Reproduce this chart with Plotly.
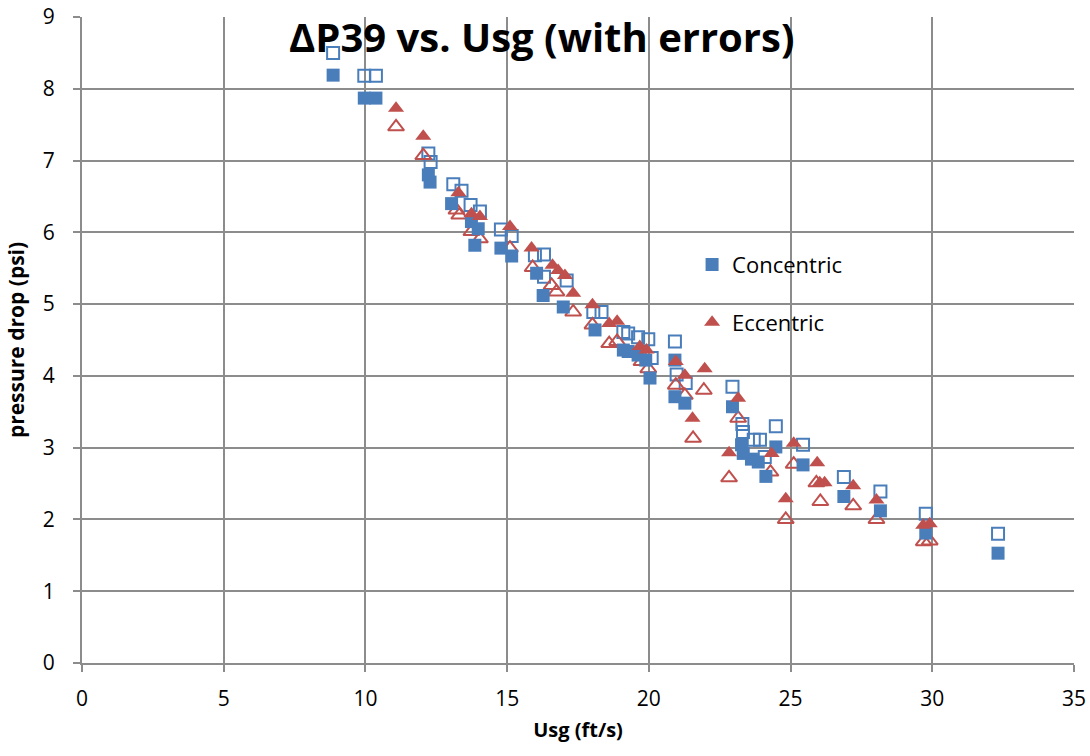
import plotly.graph_objects as go

# Concentric (filled = measured, open = with errors)
conc_x = [8.86, 9.96, 10.37, 12.22, 12.28, 13.04, 13.74, 13.98, 13.86, 14.78, 15.16, 16.04, 16.27, 16.98,
          18.10, 19.10, 19.27, 19.62, 19.89, 20.04, 20.92, 20.92, 21.27, 22.95, 23.27, 23.33, 23.62, 23.86,
          24.13, 24.48, 25.44, 26.88, 28.17, 29.77, 32.32]
conc_y = [8.19, 7.87, 7.87, 6.80, 6.70, 6.40, 6.15, 6.05, 5.82, 5.78, 5.67, 5.43, 5.12, 4.96,
          4.64, 4.36, 4.34, 4.29, 4.22, 3.97, 4.22, 3.71, 3.62, 3.57, 3.04, 2.92, 2.84, 2.80,
          2.60, 3.01, 2.76, 2.32, 2.12, 1.81, 1.53]

conc_err_x = [8.86, 9.96, 10.37, 12.22, 12.30, 13.10, 13.39, 13.71, 14.04, 14.78, 15.16, 15.98, 16.30, 16.30,
              17.10, 18.04, 18.33, 19.10, 19.27, 19.62, 19.98, 20.10, 20.92, 20.98, 21.30, 22.95, 23.30,
              23.32, 23.70, 23.92, 24.09, 24.48, 25.44, 26.88, 28.17, 29.77, 32.32]
conc_err_y = [8.50, 8.18, 8.18, 7.10, 6.98, 6.67, 6.58, 6.38, 6.29, 6.04, 5.95, 5.68, 5.69, 5.38,
              5.33, 4.89, 4.89, 4.61, 4.59, 4.54, 4.51, 4.25, 4.48, 4.02, 3.90, 3.85, 3.33,
              3.22, 3.11, 3.11, 2.87, 3.30, 3.04, 2.59, 2.39, 2.08, 1.80]

# Eccentric
ecc_x = [11.08, 12.04, 13.28, 13.74, 14.04, 15.10, 15.86, 16.60, 16.80, 17.04, 17.33, 18.01, 18.60, 18.88,
         19.68, 19.92, 20.95, 21.27, 21.97, 21.54, 23.15, 22.83, 24.33, 25.11, 25.94, 26.03, 26.20,
         24.83, 27.21, 28.03, 29.68, 29.91]
ecc_y = [7.73, 7.34, 6.55, 6.26, 6.22, 6.08, 5.78, 5.54, 5.47, 5.40, 5.15, 4.99, 4.73, 4.76,
         4.41, 4.36, 4.20, 4.01, 4.10, 3.41, 3.69, 2.93, 2.92, 3.06, 2.79, 2.51, 2.51,
         2.29, 2.47, 2.27, 1.92, 1.94]

ecc_err_x = [11.08, 12.04, 13.21, 13.31, 13.74, 14.04, 15.10, 15.90, 16.57, 16.74, 17.33, 18.01, 18.60, 18.88,
             19.74, 19.98, 20.95, 21.27, 21.94, 21.56, 23.15, 22.83, 24.29, 25.11, 25.91, 26.05,
             24.83, 27.21, 28.03, 29.70, 29.91]
ecc_err_y = [7.47, 7.07, 6.31, 6.24, 6.01, 5.91, 5.78, 5.51, 5.26, 5.17, 4.89, 4.71, 4.45, 4.48,
             4.20, 4.10, 3.87, 3.73, 3.80, 3.13, 3.41, 2.58, 2.66, 2.77, 2.51, 2.25,
             2.00, 2.19, 2.00, 1.69, 1.70]

BLUE = "#4A7EBB"
RED = "#C0504D"

fig = go.Figure()
fig.add_trace(go.Scatter(x=conc_err_x, y=conc_err_y, mode="markers", showlegend=False,
                         marker=dict(symbol="square-open", size=12, color=BLUE, line=dict(width=2, color=BLUE))))
fig.add_trace(go.Scatter(x=ecc_err_x, y=ecc_err_y, mode="markers", showlegend=False,
                         marker=dict(symbol="triangle-up-open", size=14, color=RED, line=dict(width=2, color=RED))))
fig.add_trace(go.Scatter(x=conc_x, y=conc_y, mode="markers", name="Concentric", legendgroup="a",
                         marker=dict(symbol="square", size=13, color=BLUE)))
fig.add_trace(go.Scatter(x=ecc_x, y=ecc_y, mode="markers", name="Eccentric", legendgroup="b",
                         marker=dict(symbol="triangle-up", size=14, color=RED)))

GRID = "#8C8C8C"
fig.update_layout(
    width=1090, height=756,
    margin=dict(l=82, r=16, t=17, b=93),
    paper_bgcolor="white", plot_bgcolor="white",
    font=dict(family="Open Sans, Liberation Sans, sans-serif", color="black"),
    title=dict(text="<b>ΔP39 vs. Usg (with errors)</b>", x=0.497, xanchor="center",
               y=0.95, yanchor="middle", font=dict(size=40, color="black"), automargin=False),
    showlegend=True,
    legend=dict(x=0.615, y=0.649, xanchor="left", yanchor="top", bgcolor="rgba(0,0,0,0)",
                font=dict(size=22), tracegroupgap=26, traceorder="grouped", itemwidth=30),
    xaxis=dict(range=[0, 35], dtick=5, tick0=0, showgrid=True, gridcolor=GRID, gridwidth=2,
               zeroline=False, showline=True, linecolor=GRID, linewidth=2, mirror=False,
               ticks="outside", ticklen=7, tickcolor=GRID, tickwidth=2, automargin=False,
               tickfont=dict(size=21), ticklabelstandoff=9,
               title=dict(text="<b>Usg (ft/s)</b>", font=dict(size=20), standoff=12)),
    yaxis=dict(range=[0, 9], dtick=1, tick0=0, showgrid=True, gridcolor=GRID, gridwidth=2,
               zeroline=False, showline=True, linecolor=GRID, linewidth=2, automargin=False,
               ticks="outside", ticklen=7, tickcolor=GRID, tickwidth=2,
               tickfont=dict(size=21), ticklabelstandoff=14,
               title=dict(text="<b>pressure drop (psi)</b>", font=dict(size=21), standoff=12)),
)

fig.write_html("out.html")
